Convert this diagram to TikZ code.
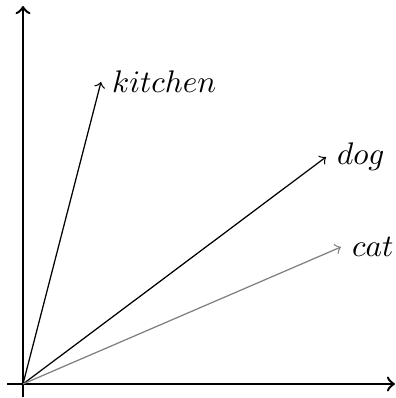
\documentclass[tikz,border=0pt]{standalone}
\begin{document}
\begin{tikzpicture}[x=0.32pt,y=0.32pt,
  axis/.style={thick,->},
  vec/.style={->},
  lbl/.style={anchor=west}]
\useasboundingbox (-23,-14) rectangle (373,384);
\coordinate (O) at (0,0);
\coordinate (xl) at (-16,0);
\coordinate (xr) at (372,0);
\coordinate (yb) at (0,-13);
\coordinate (yt) at (0,378);
\draw[axis] (xl) -- (xr);
\draw[axis] (yb) -- (yt);
\node[lbl] (kitchen) at (78,302) {$kitchen$};
\node[lbl] (dog) at (303,227) {$dog$};
\node[lbl] (cat) at (318,137) {$cat$};
\draw[vec] (O) -- (kitchen.west);
\draw[vec] (O) -- (dog.west);
\draw[vec,gray] (O) -- (cat.west);
\end{tikzpicture}
\end{document}
